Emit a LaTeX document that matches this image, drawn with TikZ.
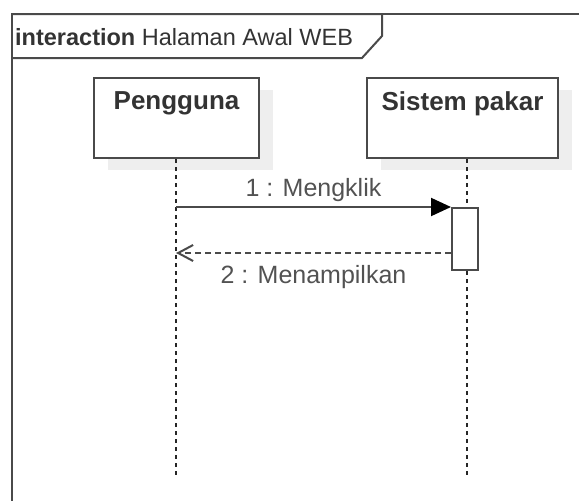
\documentclass[tikz,border=0pt]{standalone}
\usepackage{fontspec}
\setmainfont{Liberation Sans}
\usetikzlibrary{positioning, calc, arrows.meta, shadows}
\definecolor{linegray}{HTML}{4A4A4A}
\definecolor{textgray}{HTML}{333333}
\definecolor{shadowgray}{HTML}{EEEEEE}
\tikzstyle{lifebox} = [rectangle, draw=linegray, fill=white, line width=2pt, minimum height=80pt, anchor=north west, drop shadow={shadow xshift=14pt, shadow yshift=-12pt, fill=shadowgray, opacity=1}]
\tikzstyle{boxname} = [anchor=north, inner sep=0pt, font=\fontsize{26}{30}\selectfont\bfseries, text=textgray]
\tikzstyle{lifeline} = [draw=black!85, line width=1.4pt, dash pattern=on 4pt off 4pt]
\tikzstyle{activation} = [rectangle, draw=linegray, line width=2pt, fill=white, minimum width=26pt, minimum height=62pt, anchor=north]
\tikzstyle{msg} = [-{Triangle[length=20pt, width=18pt, color=black]}, line width=2pt, draw=linegray]
\tikzstyle{reply} = [-{Straight Barb[length=15pt, width=16pt]}, line width=2pt, draw=linegray, dash pattern=on 6pt off 4pt]
\tikzstyle{msglabel} = [font=\fontsize{25}{29}\selectfont, text=textgray!85]

\begin{document}
\begin{tikzpicture}[x=1pt, y=-1pt]
    \useasboundingbox (0,0) rectangle (579,501);
    %frame
    \draw [line width=2pt, draw=linegray] (12,501) -- (12,14) -- (579,14);
    \draw [line width=2pt, draw=linegray] (12,14) -- (382,14) -- (382,36) -- (362,58) -- (12,58);
    \node (frame) [anchor=west, inner sep=0pt, text=textgray, font=\fontsize{23.5}{27}\selectfont] at (15,37) {\textbf{interaction} Halaman Awal WEB};

    %lifelines
    \node (pengguna) [lifebox, minimum width=165pt] at (93,77) {};
    \node (sistem) [lifebox, minimum width=191pt] at (366,77) {};
    \node (penggunaname) [boxname] at ($(pengguna.north)+(0,14)$) {Pengguna};
    \node (sistemname) [boxname] at ($(sistem.north)+(0,14)$) {Sistem pakar};
    \coordinate (penggunaend) at (176,476);
    \coordinate (sistemend) at (467,476);
    \draw [lifeline] (pengguna.south -| penggunaend) -- (penggunaend);
    \draw [lifeline] (sistem.south -| sistemend) -- (sistemend);
    \node (act) [activation] at (465,207) {};

    %messages
    \draw [msg] (act.north west -| penggunaend) -- node[msglabel, above=1pt] {1 : Mengklik} (act.north west);
    \coordinate (back) at ($(act.north west)+(0,46)$);
    \draw [reply] (back) -- node[msglabel, below=8pt] {2 : Menampilkan} (back -| penggunaend);
\end{tikzpicture}
\end{document}
